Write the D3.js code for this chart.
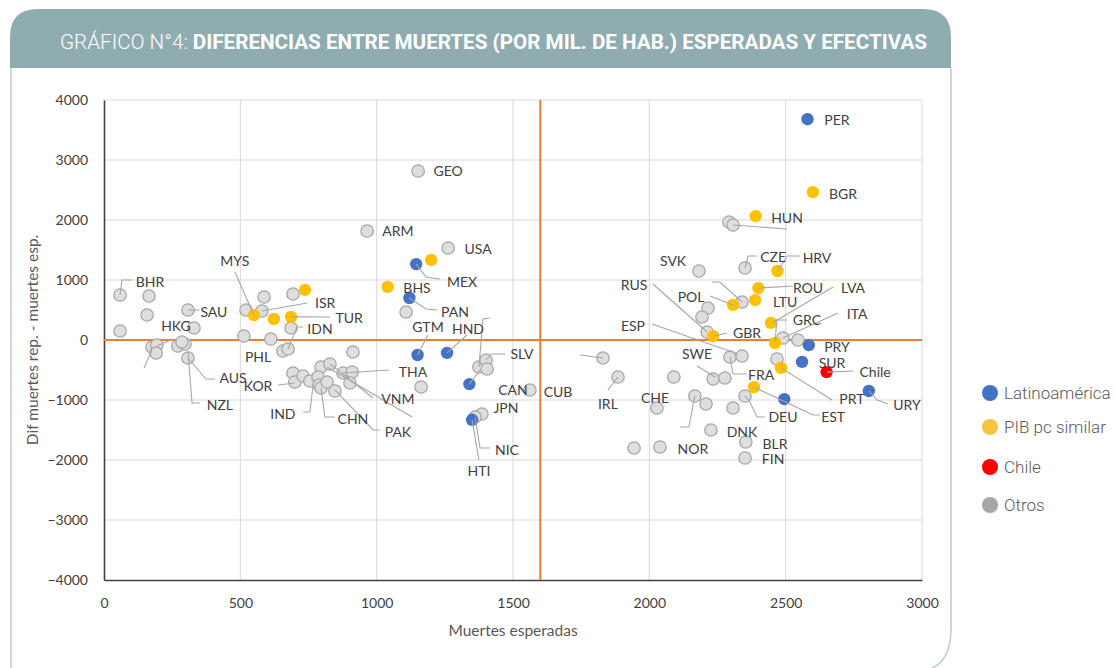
<!DOCTYPE html>
<html>
<head>
<meta charset="utf-8">
<script src="https://cdn.jsdelivr.net/npm/d3@7"></script>
<style>
  html, body { margin: 0; padding: 0; background: #fff; }
  svg { display: block; }
</style>
</head>
<body>
<div id="chart"></div>
<script>
// Muertes esperadas (x) vs. diferencia reportadas - esperadas (y), por grupo
const latam = [
  [2580, 3680], [1145, 1265], [1120, 700], [1150, -250], [1258, -215],
  [1340, -735], [1350, -1330], [2585, -85], [2560, -365], [2495, -985], [2805, -850]
];
const pibSimilar = [
  [2600, 2465], [2390, 2065], [2470, 1150], [2400, 865], [2388, 665], [2307, 585],
  [2446, 285], [2234, 65], [2461, -50], [2483, -465], [2384, -785], [1200, 1335],
  [1040, 885], [550, 415], [623, 350], [686, 385], [737, 835]
];
const chile = [[2650, -535]];
const otros = [
  [59, 750], [165, 733], [158, 417], [59, 150], [176, -117], [194, -83], [191, -217],
  [271, -100], [297, -67], [286, -33], [308, -300], [308, 500], [330, 200], [521, 500],
  [579, 483], [587, 717], [693, 767], [513, 67], [612, 17], [686, 200], [656, -183],
  [675, -150], [913, -200], [796, -450], [829, -400], [693, -550], [700, -700],
  [730, -600], [755, -683], [785, -617], [789, -750], [796, -800], [818, -700],
  [847, -850], [877, -550], [910, -533], [902, -717], [1163, -783], [1152, 2817],
  [965, 1817], [1262, 1533], [1108, 467], [1375, -450], [1401, -333], [1405, -483],
  [1562, -833], [1386, -1233], [1361, -1283], [1830, -300], [1885, -617], [1944, -1800],
  [2039, -1783], [2028, -1133], [2090, -617], [2167, -933], [2208, -1067], [2226, -1500],
  [2307, -1133], [2351, -933], [2354, -1700], [2351, -1967], [2234, -650], [2277, -633],
  [2296, -283], [2340, -267], [2468, -317], [2490, 33], [2545, 0], [2212, 133],
  [2215, 533], [2193, 383], [2340, 633], [2182, 1150], [2351, 1200], [2292, 1967], [2307, 1917]
];

const xTicks = [0, 500, 1000, 1500, 2000, 2500, 3000];
const yTicks = [-4000, -3000, -2000, -1000, 0, 1000, 2000, 3000, 4000];
const refX = 1600;
const refY = 0;

// Etiquetas de país (centro del texto, en unidades del gráfico)
const labels = [
  ["PER", 2688, 3683], ["BGR", 2710, 2450], ["HUN", 2505, 2050], ["GEO", 1262, 2817],
  ["ARM", 1078, 1817], ["USA", 1372, 1517], ["MEX", 1313, 983], ["BHS", 1148, 883],
  ["PAN", 1287, 483], ["GTM", 1188, 233], ["HND", 1335, 200], ["SLV", 1533, -233],
  ["CAN", 1500, -833], ["CUB", 1665, -850], ["JPN", 1474, -1117], ["NIC", 1478, -1817],
  ["HTI", 1375, -2167], ["IRL", 1848, -1050], ["CHE", 2021, -950], ["NOR", 2160, -1800],
  ["DNK", 2340, -1533], ["BLR", 2461, -1717], ["FIN", 2454, -1983], ["DEU", 2490, -1283],
  ["EST", 2674, -1267], ["URY", 2945, -1083], ["PRT", 2743, -983], ["Chile", 2828, -517],
  ["SUR", 2670, -383], ["PRY", 2688, -100], ["FRA", 2410, -583], ["SWE", 2175, -233],
  ["ESP", 1940, 250], ["GBR", 2358, 117], ["GRC", 2578, 350], ["ITA", 2762, 450],
  ["LVA", 2747, 867], ["LTU", 2498, 650], ["ROU", 2582, 883], ["POL", 2153, 717],
  ["RUS", 1944, 917], ["SVK", 2087, 1317], ["CZE", 2454, 1400], ["HRV", 2615, 1383],
  ["BHR", 169, 983], ["SAU", 403, 467], ["HKG", 264, 250], ["AUS", 473, -633],
  ["NZL", 425, -1067], ["MYS", 480, 1333], ["ISR", 811, 617], ["TUR", 899, 367],
  ["IDN", 792, 200], ["PHL", 565, -283], ["KOR", 565, -750], ["THA", 1133, -517],
  ["VNM", 1078, -983], ["IND", 656, -1217], ["CHN", 913, -1300], ["PAK", 1078, -1533]
];

// Líneas guía de las etiquetas
const leaders = [
  [[59, 750], [66, 1000], [100, 1000]],
  [[308, 500], [350, 500]],
  [[253, 17], [194, -100]],
  [[147, -467], [176, -167]],
  [[308, -300], [374, -650], [407, -650]],
  [[308, -200], [323, -1050], [352, -1050]],
  [[480, 1133], [550, 415]],
  [[579, 483], [745, 617]],
  [[686, 385], [829, 383]],
  [[675, -150], [708, 217], [730, 217]],
  [[638, -750], [700, -717]],
  [[877, -550], [1045, -500]],
  [[829, -400], [987, -967]],
  [[818, -450], [1130, -1283]],
  [[847, -833], [987, -1500], [1012, -1500]],
  [[767, -750], [755, -1200], [730, -1200]],
  [[796, -800], [810, -1283], [847, -1283]],
  [[1150, -250], [1188, 83]],
  [[1258, -215], [1331, 83]],
  [[1145, 1265], [1181, 1050], [1232, 1017]],
  [[1120, 700], [1181, 517], [1221, 500]],
  [[1375, -450], [1390, 350], [1416, 367]],
  [[1401, -333], [1423, -233], [1471, -233]],
  [[1340, -735], [1379, -500]],
  [[1350, -1330], [1375, -2000]],
  [[1361, -1283], [1379, -1800], [1416, -1800]],
  [[1830, -300], [1746, -250]],
  [[1885, -617], [1848, -833]],
  [[2307, 1917], [2505, 1850]],
  [[2351, 1200], [2362, 1400], [2395, 1400]],
  [[2472, 1150], [2505, 1400], [2553, 1400]],
  [[2399, 865], [2527, 900]],
  [[2450, 283], [2674, 883]],
  [[2223, 733], [2307, 585]],
  [[2340, 633], [2259, 967], [2230, 967]],
  [[2013, 933], [2212, 133]],
  [[2234, 65], [2285, 117]],
  [[2010, 267], [2325, -233]],
  [[2461, -33], [2468, 333], [2505, 333]],
  [[2490, 33], [2692, 450]],
  [[2175, -433], [2241, -617]],
  [[2296, -283], [2307, -567], [2358, -567]],
  [[2483, -465], [2670, -1000]],
  [[2652, -535], [2747, -517]],
  [[2384, -785], [2600, -1250], [2626, -1250]],
  [[2806, -850], [2835, -1000], [2875, -1067]],
  [[2351, -933], [2369, -1033], [2395, -1283], [2424, -1283]],
  [[2167, -933], [2145, -1450], [2112, -1450]]
];

const legendNames = ["Latinoamérica", "PIB pc similar", "Chile", "Otros"];
const legendColors = ["#4472c4", "#f5c342", "#ff0000", "#a6a6a6"];

const W = 1115, H = 668;
const svg = d3.select('#chart').append('svg')
  .attr('width', W).attr('height', H)
  .attr('viewBox', `0 0 ${W} ${H}`);

// Marco y cabecera
const frame = '#b9cdd1';
svg.append('path')
  .attr('d', 'M10,68 V37 Q10,9 38,9 H923 Q951,9 951,37 V68 Z')
  .attr('fill', '#8fadb1');
svg.append('path')
  .attr('d', 'M11,68 V668')
  .attr('fill', 'none').attr('stroke', frame).attr('stroke-width', 1.5);
svg.append('path')
  .attr('d', 'M951,68 V628 Q951,660 932,668')
  .attr('fill', 'none').attr('stroke', frame).attr('stroke-width', 1.5);

const title = svg.append('text')
  .attr('x', 60).attr('y', 49)
  .attr('font-family', 'Roboto, sans-serif')
  .attr('font-size', '21px')
  .attr('fill', '#fff')
  .attr('textLength', 867)
  .attr('lengthAdjust', 'spacingAndGlyphs');
title.append('tspan').attr('font-weight', 300).text('GRÁFICO N°4: ');
title.append('tspan').attr('font-weight', 700)
  .text('DIFERENCIAS ENTRE MUERTES (POR MIL. DE HAB.) ESPERADAS Y EFECTIVAS');

// Escalas
const x = d3.scaleLinear().domain([0, 3000]).range([104, 922]);
const y = d3.scaleLinear().domain([-4000, 4000]).range([580, 100]);

const font = 'Lato, "Open Sans", sans-serif';

// Rejilla
svg.append('g').selectAll('line').data(xTicks.filter(d => d > 0)).join('line')
  .attr('x1', d => x(d)).attr('x2', d => x(d))
  .attr('y1', y(4000)).attr('y2', y(-4000))
  .attr('stroke', '#d9d9d9').attr('stroke-width', 1);
svg.append('g').selectAll('line').data(yTicks.filter(d => d > -4000)).join('line')
  .attr('x1', x(0)).attr('x2', x(3000))
  .attr('y1', d => y(d)).attr('y2', d => y(d))
  .attr('stroke', '#d9d9d9').attr('stroke-width', 1);

// Ejes
const xAxis = svg.append('g')
  .attr('transform', `translate(0,${y(-4000)})`)
  .call(d3.axisBottom(x).tickValues(xTicks).tickSize(0).tickPadding(18).tickFormat(d3.format('d')));
const yAxis = svg.append('g')
  .attr('transform', `translate(${x(0)},0)`)
  .call(d3.axisLeft(y).tickValues(yTicks).tickSize(0).tickPadding(16).tickFormat(d3.format('d')));
[xAxis, yAxis].forEach(g => {
  g.select('.domain').attr('stroke', '#404040').attr('stroke-width', 1.6);
  g.selectAll('text').attr('font-family', font).attr('font-size', '14px').attr('fill', '#404040');
});

// Líneas de referencia
svg.append('line')
  .attr('x1', x(0)).attr('x2', x(3000)).attr('y1', y(refY)).attr('y2', y(refY))
  .attr('stroke', '#ed7d31').attr('stroke-width', 2);
svg.append('line')
  .attr('x1', x(refX)).attr('x2', x(refX)).attr('y1', y(4000)).attr('y2', y(-4000))
  .attr('stroke', '#ed7d31').attr('stroke-width', 2);

// Títulos de ejes
svg.append('text')
  .attr('x', (x(0) + x(3000)) / 2).attr('y', 636)
  .attr('text-anchor', 'middle')
  .attr('font-family', font).attr('font-size', '15.5px').attr('fill', '#595959')
  .text('Muertes esperadas');
svg.append('text')
  .attr('transform', `translate(38,${y(0)}) rotate(-90)`)
  .attr('text-anchor', 'middle')
  .attr('font-family', font).attr('font-size', '15.5px').attr('fill', '#595959')
  .text('Dif muertes rep. - muertes esp.');

// Puntos
const series = [
  { data: otros, fill: '#dedede', stroke: '#a6a6a6' },
  { data: pibSimilar, fill: '#ffc000', stroke: 'none' },
  { data: latam, fill: '#4472c4', stroke: 'none' },
  { data: chile, fill: '#ff0000', stroke: 'none' }
];
series.forEach(s => {
  svg.append('g').selectAll('circle').data(s.data).join('circle')
    .attr('cx', d => x(d[0])).attr('cy', d => y(d[1]))
    .attr('r', 6.2)
    .attr('fill', s.fill)
    .attr('stroke', s.stroke)
    .attr('stroke-width', 1.3);
});

// Líneas guía y etiquetas
const line = d3.line().x(d => x(d[0])).y(d => y(d[1]));
svg.append('g').selectAll('path').data(leaders).join('path')
  .attr('d', line)
  .attr('fill', 'none')
  .attr('stroke', '#a6a6a6')
  .attr('stroke-width', 1.1);

svg.append('g').selectAll('text').data(labels).join('text')
  .attr('x', d => x(d[1])).attr('y', d => y(d[2]))
  .attr('text-anchor', 'middle')
  .attr('dominant-baseline', 'central')
  .attr('font-family', font).attr('font-size', '14px').attr('fill', '#404040')
  .text(d => d[0]);

// Leyenda
const legendY = [393, 427, 467, 505];
const legend = svg.append('g');
legendNames.forEach((name, i) => {
  legend.append('circle')
    .attr('cx', 990).attr('cy', legendY[i]).attr('r', 8)
    .attr('fill', legendColors[i]);
  legend.append('text')
    .attr('x', 1004).attr('y', legendY[i])
    .attr('dominant-baseline', 'central')
    .attr('font-family', 'Roboto, sans-serif').attr('font-weight', 300)
    .attr('font-size', '17px').attr('fill', '#595959')
    .text(name);
});
</script>
</body>
</html>
